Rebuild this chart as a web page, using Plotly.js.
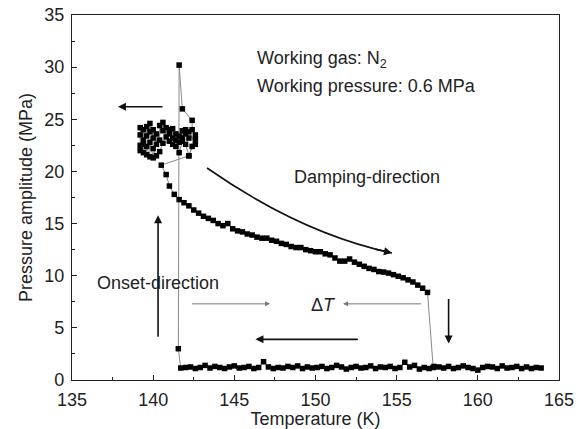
<!DOCTYPE html>
<html><head><meta charset="utf-8">
<script src="https://cdn.plot.ly/plotly-3.0.1.min.js"></script>
<style>html,body{margin:0;padding:0;background:#fff}#c{width:580px;height:429px}</style>
</head><body><div id="c"></div>
<script>
// Low-amplitude branch (temperature K, pressure amplitude MPa)
var lowT = [163.9,163.6,163.3,163.0,162.7,162.4,162.1,161.8,161.5,161.2,
            160.9,160.6,160.3,160.0,159.7,159.4,159.1,158.8,158.5,158.2,
            157.9,157.6,157.3,157.0,156.7,156.4,156.1,155.8,155.5,155.2,
            154.9,154.6,154.3,154.0,153.7,153.4,153.1,152.8,152.5,152.2,
            151.9,151.6,151.3,151.0,150.7,150.4,150.1,149.8,149.5,149.2,
            148.9,148.6,148.3,148.0,147.7,147.4,147.1,146.8,146.5,146.2,
            145.9,145.6,145.3,145.0,144.7,144.4,144.1,143.8,143.5,143.2,
            142.9,142.6,142.3,142.0,141.7];
var lowP = [1.15,1.2,1.1,1.25,1.1,1.3,1.2,1.15,1.35,1.1,
            1.25,1.3,1.2,0.95,1.1,1.2,1.35,1.2,1.1,1.3,
            1.15,1.25,1.3,1.1,1.2,1.05,1.4,1.25,1.7,1.2,
            1.1,1.3,1.2,1.25,1.1,1.35,1.2,1.15,1.3,1.2,
            1.05,1.25,1.4,1.2,1.1,1.3,1.2,1.15,1.25,1.1,
            1.35,1.2,1.3,1.15,1.2,1.1,1.25,1.75,1.2,1.1,
            1.3,1.2,1.15,1.35,1.25,1.1,1.2,1.3,1.15,1.4,
            1.2,1.1,1.25,1.2,1.15];
// Onset jump and oscillating cluster
var jumpT = [141.55,141.6,141.8];
var jumpP = [3.0,30.2,26.0];
var clusterT = [142.4,142.4,142.6,142.6,142.2,142.2,142.0,142.0,141.8,141.8,141.6,141.6,141.4,141.4,141.2,141.2,141.0,141.0,
                140.8,140.8,140.6,140.6,140.4,140.4,140.2,140.2,140.0,140.0,139.8,139.8,139.6,139.6,139.4,139.4,139.2,139.2,
                139.2,139.2,139.4,139.4,139.6,139.6,139.8,139.8,140.0,140.0,140.2,140.4,140.6,141.0,141.2,141.4,141.6,141.8,142.0,142.2,142.4,142.6,142.2];
var clusterP = [24.9,24.0,23.5,22.6,23.8,23.2,24.0,23.6,23.9,23.2,23.4,22.8,23.6,23.0,24.1,23.2,24.0,23.6,
                24.2,23.3,24.7,23.9,24.4,23.0,23.6,22.6,24.0,23.2,24.6,23.8,24.3,23.4,24.0,23.0,24.2,23.5,
                22.5,22.0,21.8,22.6,21.6,22.4,21.4,22.8,21.3,22.2,21.5,21.9,22.7,22.9,22.6,22.4,21.8,22.9,22.6,21.5,22.4,23.1,21.5];
// Damping branch (heating)
var dampT = [140.5,140.8,141.0,141.3,141.6,141.9,142.2,142.5,142.8,143.1,143.4,143.7,144.0,144.3,144.6,144.9,
             145.2,145.5,145.8,146.1,146.4,146.7,147.0,147.3,147.6,147.9,148.2,148.5,148.8,149.1,149.4,149.7,
             150.0,150.3,150.6,150.9,151.2,151.5,151.8,152.1,152.4,152.7,153.0,153.3,153.6,153.9,154.2,154.5,
             154.8,155.1,155.4,155.7,156.0,156.3,156.6,156.9,157.25];
var dampP = [20.6,19.7,18.6,17.8,17.3,17.0,16.7,16.3,16.0,15.7,15.5,15.3,15.0,14.8,15.0,14.5,
             14.3,14.2,14.0,13.9,13.7,13.6,13.6,13.4,13.3,13.1,13.0,12.8,12.7,12.7,12.5,12.4,
             12.3,12.3,12.1,12.0,11.7,11.4,11.4,11.6,11.3,11.1,10.9,10.7,10.6,10.4,10.35,10.25,
             10.1,9.95,9.8,9.6,9.4,9.1,8.8,8.4,1.2];

var tx = [].concat(lowT, jumpT, clusterT, dampT);
var ty = [].concat(lowP, jumpP, clusterP, dampP);

var F = 'Liberation Sans, Arial, sans-serif';
var TC = '#222';
var data = [{
  x: tx, y: ty, type: 'scatter', mode: 'lines+markers',
  line: {color: '#8a8a8a', width: 1},
  marker: {symbol: 'square', size: 5.5, color: '#000'},
  hoverinfo: 'none', showlegend: false
}];

function arr(x, y, ax, ay, col, w) {
  return {x: x, y: y, ax: ax, ay: ay, xref: 'x', yref: 'y', axref: 'x', ayref: 'y',
          showarrow: true, arrowhead: 2, arrowsize: 1, arrowwidth: w, arrowcolor: col, text: ''};
}
function txt(x, y, t) {
  return {x: x, y: y, xref: 'x', yref: 'y', text: t, showarrow: false, xanchor: 'left', yanchor: 'middle',
          font: {family: F, size: 18, color: TC}};
}

var annotations = [
  txt(146.27, 30.7, 'Working gas: N<sub>2</sub>'),
  txt(146.27, 28.2, 'Working pressure: 0.6 MPa'),
  txt(148.55, 19.45, 'Damping-direction'),
  txt(136.42, 9.3, 'Onset-direction'),
  txt(149.6, 7.2, 'Δ<i>T</i>'),
  arr(137.83, 26.2, 140.67, 26.2, '#111', 1.6),
  arr(140.3, 15.8, 140.3, 4.0, '#111', 1.6),
  arr(147.2, 7.3, 142.3, 7.3, '#777', 1),
  arr(151.7, 7.3, 156.6, 7.3, '#777', 1),
  arr(146.3, 3.9, 152.7, 3.9, '#111', 1.6),
  arr(158.2, 3.5, 158.2, 7.9, '#111', 1.6),
  {x: 154.71, y: 12.18, xref: 'x', yref: 'y', ax: -18, ay: -4, showarrow: true, arrowhead: 2,
   arrowsize: 1, arrowwidth: 1.6, arrowcolor: '#111', text: ''}
];

var layout = {
  width: 580, height: 429,
  margin: {l: 72, r: 21, t: 15, b: 49},
  paper_bgcolor: '#fff', plot_bgcolor: '#fff',
  font: {family: F, color: TC},
  xaxis: {range: [135, 165], dtick: 5, tick0: 135, ticks: 'inside', ticklen: 5, tickwidth: 1, tickcolor: TC,
          showline: true, linecolor: TC, linewidth: 1.2, mirror: true, showgrid: false, zeroline: false,
          tickfont: {size: 18, family: F, color: TC}, ticklabelstandoff: 3,
          minor: {ticks: 'inside', ticklen: 3, dtick: 2.5, tickcolor: TC, showgrid: false},
          title: {text: 'Temperature (K)', font: {size: 18, family: F, color: TC}, standoff: 0}},
  yaxis: {range: [0, 35], dtick: 5, ticks: 'inside', ticklen: 5, tickwidth: 1, tickcolor: TC,
          showline: true, linecolor: TC, linewidth: 1.2, mirror: true, showgrid: false, zeroline: false,
          tickfont: {size: 18, family: F, color: TC}, ticklabelstandoff: 3,
          minor: {ticks: 'inside', ticklen: 3, dtick: 2.5, tickcolor: TC, showgrid: false},
          title: {text: 'Pressure amplitude (MPa)', font: {size: 18, family: F, color: TC}, standoff: 6}},
  shapes: [{type: 'path', xref: 'x', yref: 'y', path: 'M 143.32,20.33 Q 149.1,14.04 154.71,12.18',
            line: {color: '#111', width: 1.6}}],
  annotations: annotations
};
Plotly.newPlot('c', data, layout, {staticPlot: true, displayModeBar: false});
</script></body></html>
